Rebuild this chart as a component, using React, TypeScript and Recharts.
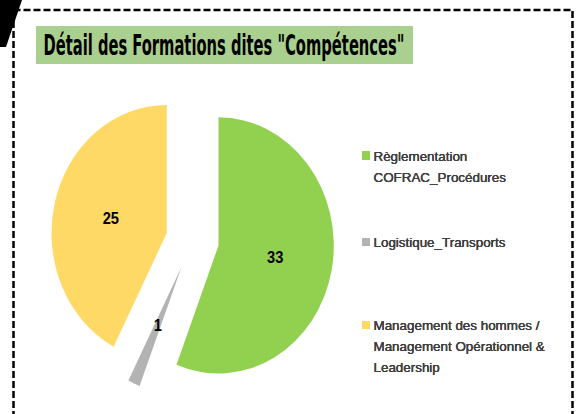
import { PieChart, Pie, Cell, Legend } from 'recharts';

const CATEGORIES = [
  'Règlementation COFRAC_Procédures',
  'Logistique_Transports',
  'Management des hommes / Management Opérationnel & Leadership',
];
const VALUES = [33, 1, 25];
const COLORS = ['#92D050', '#B3B3B3', '#FFD966'];
const TITLE = 'Détail des Formations dites "Compétences"';

const data = CATEGORIES.map((name, i) => ({ name, value: VALUES[i] }));
const TOTAL = VALUES.reduce((a, b) => a + b, 0);

const CX = 192.5;
const CY = 240;
const R = 122;
const EXPLODE = 28;
const LEGEND_TOPS = [145.7, 232.3, 315];

// push each slice out along its own bisector (Excel-style exploded pie)
function sliceOffset(i: number) {
  const before = VALUES.slice(0, i).reduce((a, b) => a + b, 0);
  const mid = ((before + VALUES[i] / 2) / TOTAL) * 2 * Math.PI;
  return { dx: EXPLODE * Math.sin(mid), dy: -EXPLODE * Math.cos(mid) };
}

const makeLabel = (target: number) => (props: any) => {
  if (props.name !== CATEGORIES[target]) return <g />;
  const RAD = Math.PI / 180;
  const r = props.outerRadius * 0.5;
  const x = props.cx + r * Math.cos(-props.midAngle * RAD);
  const y = props.cy + r * Math.sin(-props.midAngle * RAD);
  return (
    <text
      x={x}
      y={y}
      textAnchor="middle"
      dominantBaseline="central"
      fontFamily="'Liberation Sans', Arial, sans-serif"
      fontWeight="bold"
      fontSize={15.5}
      fill="#000"
    >
      {props.value}
    </text>
  );
};

function renderLegend(props: any) {
  const items = (props.payload || []).filter((p: any) => CATEGORIES.includes(p.value));
  return (
    <div style={{ position: 'relative', width: 576, height: 414 }}>
      {items.map((p: any) => {
        const i = CATEGORIES.indexOf(p.value);
        return (
          <div
            key={p.value}
            style={{
              position: 'absolute',
              left: 361.5,
              top: LEGEND_TOPS[i],
              display: 'flex',
              alignItems: 'flex-start',
              fontFamily: "'Liberation Sans', Arial, sans-serif",
              fontSize: 13.4,
              lineHeight: '21px',
              color: '#404040',
            }}
          >
            <span
              style={{ width: 8.5, height: 8.5, background: COLORS[i], marginTop: 5.5, marginRight: 3.5, flex: 'none' }}
            />
            <span style={{ width: 185 }}>{p.value}</span>
          </div>
        );
      })}
    </div>
  );
}

export default function App() {
  return (
    <div style={{ position: 'absolute', left: 0, top: 0, width: 576, height: 414, background: '#fff', overflow: 'hidden' }}>
      <style>{`.pie-wrap .recharts-surface { transform-origin: ${CX}px ${CY}px; transform: scale(0.945, 1.05); }`}</style>
      <svg width={576} height={414} style={{ position: 'absolute', left: 0, top: 0 }}>
        <polygon points="0,0 22,0 6,47 0,47" fill="#000" />
        <rect
          x={13.5}
          y={10}
          width={559}
          height={420}
          fill="none"
          stroke="#000"
          strokeWidth={2.5}
          strokeDasharray="7 3"
        />
        <rect x={36} y={26} width={377} height={38} fill="#A9D08E" />
        <text
          transform="translate(43.5,55) scale(1,1.25)"
          x={0}
          y={0}
          textLength={361}
          lengthAdjust="spacingAndGlyphs"
          fontFamily="'DejaVu Sans Condensed', 'DejaVu Sans', sans-serif"
          fontWeight="bold"
          fontSize={22}
          fill="#000"
        >
          {TITLE}
        </text>
      </svg>
      <div className="pie-wrap" style={{ position: 'absolute', left: 0, top: 0 }}>
        <PieChart width={576} height={414} margin={{ top: 0, right: 0, bottom: 0, left: 0 }}>
          {CATEGORIES.map((_, k) => {
            const { dx, dy } = sliceOffset(k);
            return (
              <Pie
                key={k}
                data={data}
                dataKey="value"
                nameKey="name"
                cx={CX + dx}
                cy={CY + dy}
                outerRadius={R}
                startAngle={90}
                endAngle={-270}
                stroke="none"
                label={makeLabel(k)}
                labelLine={false}
                legendType={k === 0 ? 'square' : 'none'}
                isAnimationActive={false}
              >
                {data.map((d, i) => (
                  <Cell key={d.name} fill={i === k ? COLORS[i] : 'none'} stroke="none" />
                ))}
              </Pie>
            );
          })}
          <Legend
            content={renderLegend}
            layout="vertical"
            align="right"
            verticalAlign="middle"
            wrapperStyle={{ left: 0, top: 0, width: 576, height: 414 }}
          />
        </PieChart>
      </div>
    </div>
  );
}
